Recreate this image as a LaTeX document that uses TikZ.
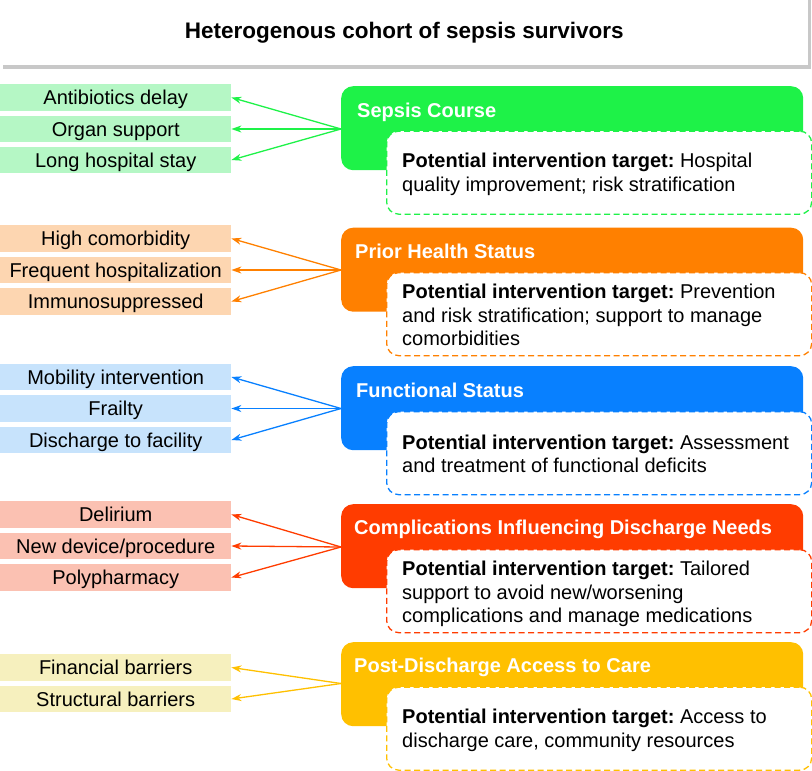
\documentclass[tikz,border=0pt]{standalone}
\usepackage{fontspec}
\setmainfont{Liberation Sans}
\usetikzlibrary{arrows.meta}
\definecolor{gDark}{RGB}{30,242,72}
\definecolor{gLight}{RGB}{181,247,197}
\definecolor{oDark}{RGB}{255,128,0}
\definecolor{oLight}{RGB}{253,214,177}
\definecolor{bDark}{RGB}{8,128,255}
\definecolor{bLight}{RGB}{199,227,252}
\definecolor{rDark}{RGB}{255,60,0}
\definecolor{rLight}{RGB}{251,193,178}
\definecolor{yDark}{RGB}{255,192,0}
\definecolor{yLight}{RGB}{246,240,190}
\definecolor{shadowgray}{RGB}{200,200,200}
\frenchspacing
\begin{document}
\begin{tikzpicture}[x=1pt,y=-1pt,
  panel/.style={rounded corners=12pt, minimum width=462pt, minimum height=84pt, anchor=north west, inner sep=0pt},
  innerbox/.style={rounded corners=12pt, fill=white, line width=1.3pt, dash pattern=on 6pt off 3.5pt, minimum width=425pt, minimum height=83pt, anchor=north west, inner sep=0pt},
  item/.style={anchor=west, minimum width=231pt, minimum height=26.5pt, inner sep=0pt, text height=14.3pt, text depth=0pt, font=\fontsize{20}{24}\selectfont},
  ptitle/.style={anchor=base west, text=white, font=\bfseries\fontsize{20}{24}\selectfont, inner sep=0pt},
  body/.style={anchor=west, align=left, inner sep=0pt, font=\fontsize{20}{23.5}\selectfont},
  link/.style={line width=1.3pt, -{Stealth[length=10pt,width=7pt]}}]
\useasboundingbox (0,0) rectangle (812,771);

% title
\fill[shadowgray] (3,0) rectangle (811,69);
\node[fill=white, minimum width=808pt, minimum height=65pt, anchor=north west, inner sep=0pt, font=\bfseries\fontsize{22.5}{26}\selectfont] (title) at (0,0) {Heterogenous cohort of sepsis survivors};

% group 1: green
\node[panel, fill=gDark] (p1) at (341,86) {};
\node[innerbox, draw=gDark] (i1) at (386,130.5) {};
\node[ptitle] (t1) at (357,117.5) {Sepsis Course};
\node[body] (b1) at (402,174.5) {\textbf{Potential intervention target:} Hospital\\quality improvement; risk stratification};
\coordinate (c1) at (341,129);
\node[item, fill=gLight] (g1a) at (0,97.5) {Antibiotics delay};
\node[item, fill=gLight] (g1b) at (0,129) {Organ support};
\node[item, fill=gLight] (g1c) at (0,160) {Long hospital stay};
\draw[link, gDark] (c1) -- (g1a.east);
\draw[link, gDark] (c1) -- (g1b.east);
\draw[link, gDark] (c1) -- (g1c.east);

% group 2: orange
\node[panel, fill=oDark] (p2) at (341,227.5) {};
\node[innerbox, draw=oDark] (i2) at (386,272) {};
\node[ptitle] (t2) at (355,258) {Prior Health Status};
\node[body] (b2) at (402,315) {\textbf{Potential intervention target:} Prevention\\and risk stratification; support to manage\\comorbidities};
\coordinate (c2) at (341,270);
\node[item, fill=oLight] (g2a) at (0,238.5) {High comorbidity};
\node[item, fill=oLight] (g2b) at (0,270) {Frequent hospitalization};
\node[item, fill=oLight] (g2c) at (0,301.5) {Immunosuppressed};
\draw[link, oDark] (c2) -- (g2a.east);
\draw[link, oDark] (c2) -- (g2b.east);
\draw[link, oDark] (c2) -- (g2c.east);

% group 3: blue
\node[panel, fill=bDark] (p3) at (341,366) {};
\node[innerbox, draw=bDark] (i3) at (386,411) {};
\node[ptitle] (t3) at (356,397) {Functional Status};
\node[body] (b3) at (402,454) {\textbf{Potential intervention target:} Assessment\\and treatment of functional deficits};
\coordinate (c3) at (341,408.5);
\node[item, fill=bLight] (g3a) at (0,377) {Mobility intervention};
\node[item, fill=bLight] (g3b) at (0,408.5) {Frailty};
\node[item, fill=bLight] (g3c) at (0,440) {Discharge to facility};
\draw[link, bDark] (c3) -- (g3a.east);
\draw[link, bDark] (c3) -- (g3b.east);
\draw[link, bDark] (c3) -- (g3c.east);

% group 4: red
\node[panel, fill=rDark] (p4) at (341,504) {};
\node[innerbox, draw=rDark] (i4) at (386,549) {};
\node[ptitle] (t4) at (354,534.5) {Complications Influencing Discharge Needs};
\node[body] (b4) at (402,594) {\textbf{Potential intervention target:} Tailored\\support to avoid new/worsening\\complications and manage medications};
\coordinate (c4) at (341,547);
\node[item, fill=rLight] (g4a) at (0,514.5) {Delirium};
\node[item, fill=rLight] (g4b) at (0,546) {New device/procedure};
\node[item, fill=rLight] (g4c) at (0,577.5) {Polypharmacy};
\draw[link, rDark] (c4) -- (g4a.east);
\draw[link, rDark] (c4) -- (g4b.east);
\draw[link, rDark] (c4) -- (g4c.east);

% group 5: yellow
\node[panel, fill=yDark] (p5) at (341,642) {};
\node[innerbox, draw=yDark] (i5) at (386,686.5) {};
\node[ptitle] (t5) at (354,672) {Post-Discharge Access to Care};
\node[body] (b5) at (402,730.5) {\textbf{Potential intervention target:} Access to\\discharge care, community resources};
\coordinate (c5) at (341,683.5);
\node[item, fill=yLight] (g5a) at (0,667.5) {Financial barriers};
\node[item, fill=yLight] (g5b) at (0,699) {Structural barriers};
\draw[link, yDark] (c5) -- (g5a.east);
\draw[link, yDark] (c5) -- (g5b.east);
\end{tikzpicture}
\end{document}
